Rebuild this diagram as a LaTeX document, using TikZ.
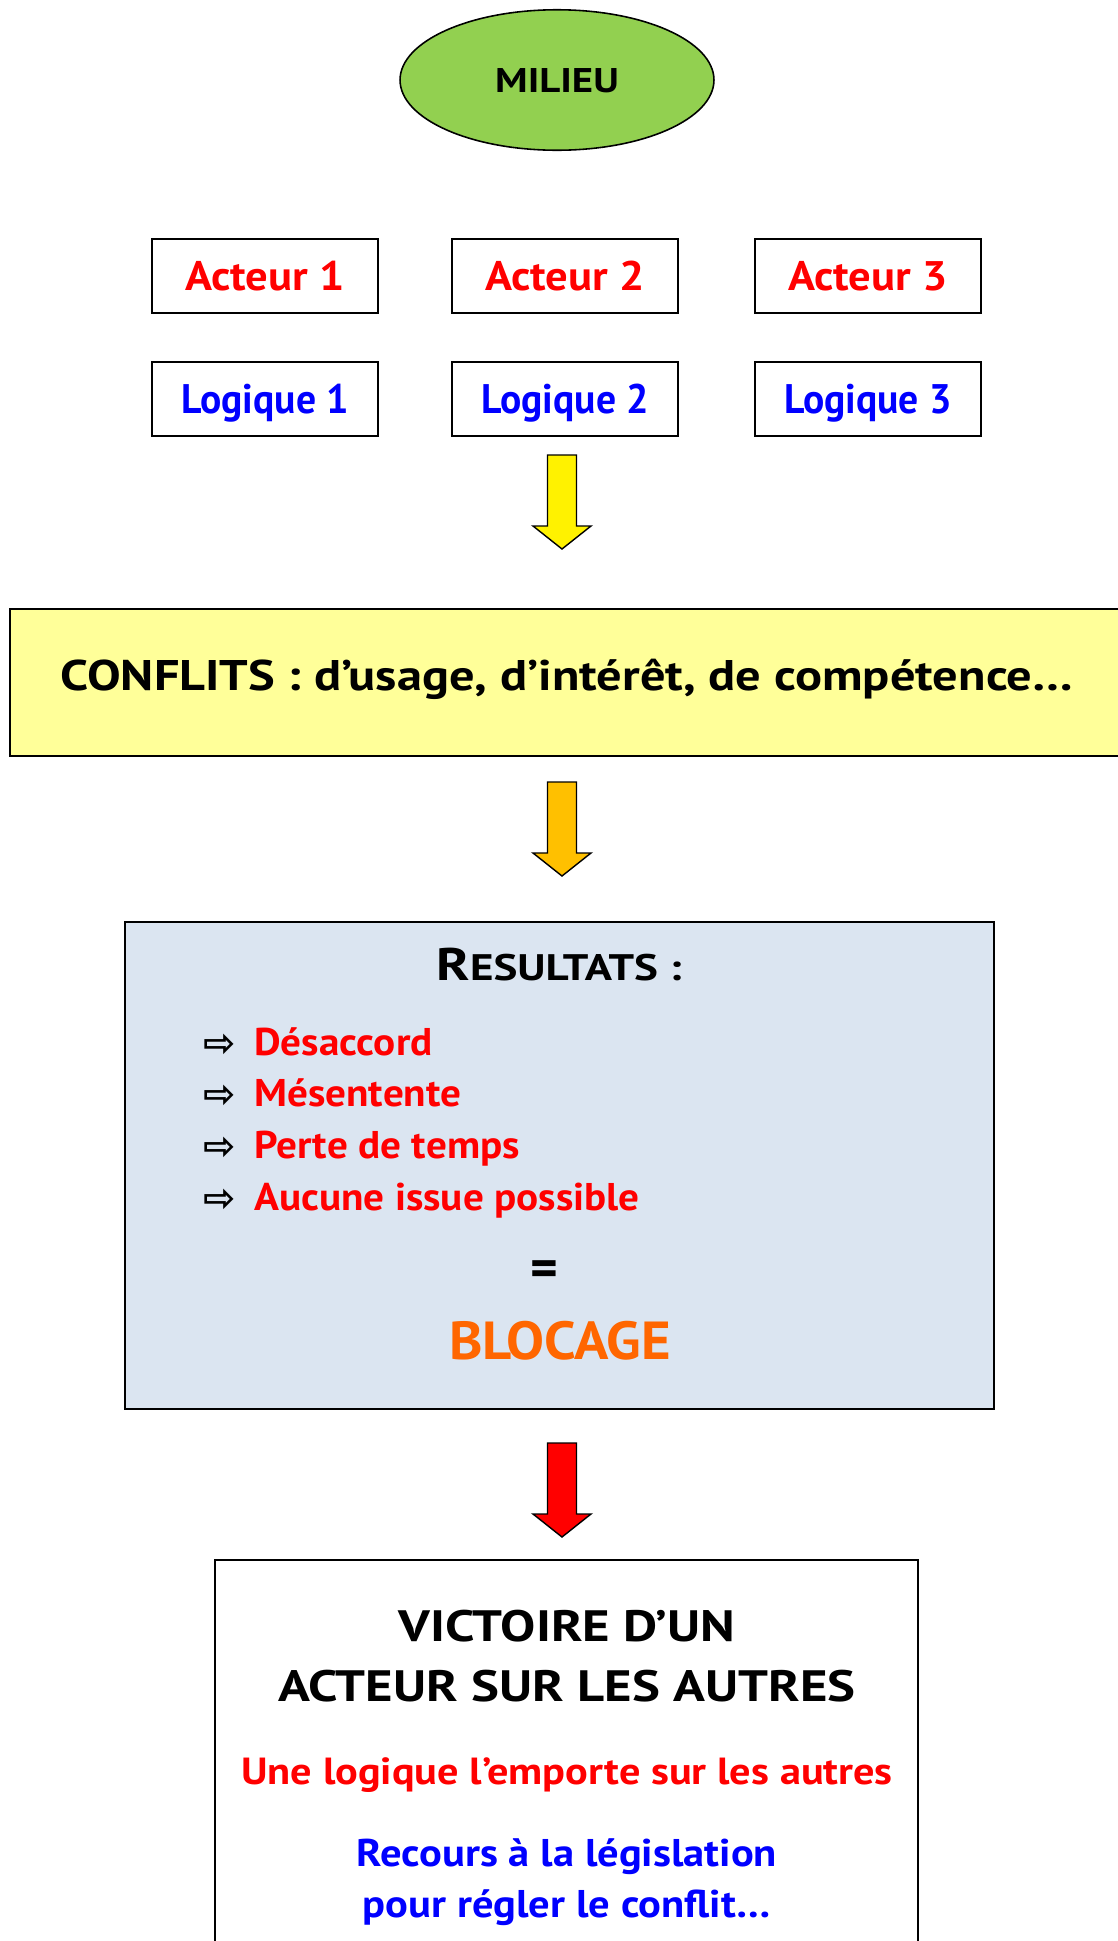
\documentclass[tikz,border=0pt]{standalone}
\usepackage{fontspec}
\setmainfont{PT Sans}
\newfontfamily\symbfont{DejaVu Sans}
\usepackage{xcolor}
\usetikzlibrary{shapes,arrows,positioning,calc}

\definecolor{vertmilieu}{HTML}{92D050}
\definecolor{jaunepale}{HTML}{FFFF99}
\definecolor{bleugris}{HTML}{DBE5F1}
\definecolor{orangefleche}{HTML}{FFC000}
\definecolor{orangetexte}{HTML}{FF6600}

\begin{document}
\begin{tikzpicture}[x=0.02cm, y=-0.02cm,
    grid block/.style={draw, rectangle, line width=1pt, minimum width=4.52cm, minimum height=1.48cm, text height=16.5pt, text depth=0pt},
    big block/.style={draw, rectangle, line width=0.9pt},
    fat arrow/.style={draw, line width=0.8pt, line join=miter},
    node distance=6cm]
    \useasboundingbox (0,0) rectangle (1118,1941);
    \clip (0,0) rectangle (1118,1941);

    \node[draw, ellipse, fill=vertmilieu, line width=0.9pt, minimum width=6.28cm, minimum height=2.81cm, text height=13.7pt, text depth=0pt, font=\bfseries\addfontfeatures{FakeStretch=1.19}\fontsize{19.5}{24}\selectfont] (milieu) at (557,80) {MILIEU};

    \tikzset{font=\bfseries\addfontfeatures{FakeStretch=1.08}\fontsize{23.5}{28}\selectfont}
    \node[grid block, text=red] (acteur1) at (265,276) {Acteur 1};
    \node[grid block, text=red, right of=acteur1] (acteur2) {Acteur 2};
    \node[grid block, text=red, right of=acteur2, xshift=0.06cm] (acteur3) {Acteur 3};
    \tikzset{font=\bfseries\addfontfeatures{FakeStretch=0.96}\fontsize{23.5}{28}\selectfont}
    \node[grid block, text=blue, below of=acteur1, node distance=2.46cm] (logique1) {Logique 1};
    \node[grid block, text=blue, below of=acteur2, node distance=2.46cm] (logique2) {Logique 2};
    \node[grid block, text=blue, below of=acteur3, node distance=2.46cm] (logique3) {Logique 3};

    \node[big block, fill=jaunepale, minimum width=22.28cm, minimum height=2.94cm, text height=17pt, text depth=7.7pt, font=\bfseries\addfontfeatures{FakeStretch=1.175}\fontsize{24.4}{29}\selectfont] (conflits) at (567,682.5) {CONFLITS : d’usage, d’intérêt, de compétence…};

    \node[big block, fill=bleugris, minimum width=17.39cm, minimum height=9.74cm] (resultats) at (559.5,1165.5) {};
    \node[anchor=base, font=\bfseries\addfontfeatures{FakeStretch=1.22}] (titreres) at (559,980) {{\fontsize{26}{30}\selectfont R}{\fontsize{21}{30}\selectfont ESULTATS :}};
    \foreach \txt [count=\i] in {Désaccord, Mésentente, Perte de temps, Aucune issue possible} {
        \node[anchor=base west, font=\symbfont\bfseries\fontsize{22}{24}\selectfont, inner sep=0pt] (puce\i) at (203,1056+51.9*\i-51.9) {⇨};
        \node[anchor=base west, text=red, font=\bfseries\addfontfeatures{FakeStretch=1.065}\fontsize{22}{26}\selectfont, inner sep=0pt] (item\i) at (254,1055+51.9*\i-51.9) {\txt};
    }
    \node[anchor=base, font=\bfseries\fontsize{30}{34}\selectfont] (egal) at (544,1286) {=};
    \node[anchor=base, text=orangetexte, font=\bfseries\addfontfeatures{FakeStretch=1.06}\fontsize{30.5}{36}\selectfont] (blocage) at (560,1359) {BLOCAGE};

    \node[big block, minimum width=14.06cm, minimum height=8cm] (victoire) at (566.5,1760) {};
    \node[anchor=base, font=\bfseries\addfontfeatures{FakeStretch=1.2}\fontsize{25}{30}\selectfont] (titre1) at (567,1641) {VICTOIRE D’UN};
    \node[anchor=base, font=\bfseries\addfontfeatures{FakeStretch=1.2}\fontsize{25}{30}\selectfont] (titre2) at (567,1701) {ACTEUR SUR LES AUTRES};
    \node[anchor=base, text=red, font=\bfseries\addfontfeatures{FakeStretch=1.12}\fontsize{21.5}{26}\selectfont] (emporte) at (567,1784) {Une logique l’emporte sur les autres};
    \node[anchor=base, text=blue, font=\bfseries\addfontfeatures{FakeStretch=1.1}\fontsize{22}{26}\selectfont] (recours1) at (567,1866) {Recours à la législation};
    \node[anchor=base, text=blue, font=\bfseries\addfontfeatures{FakeStretch=1.1}\fontsize{22}{26}\selectfont] (recours2) at (567,1917) {pour régler le conflit…};

    \foreach \y/\couleur in {455/yellow, 782/orangefleche, 1443/red}
        \draw[fat arrow, fill=\couleur] (547.5,\y) -- ++(29,0) -- ++(0,71) -- ++(14.5,0) -- ++(-29,23) -- ++(-29,-23) -- ++(14.5,0) -- cycle;

\end{tikzpicture}
\end{document}
